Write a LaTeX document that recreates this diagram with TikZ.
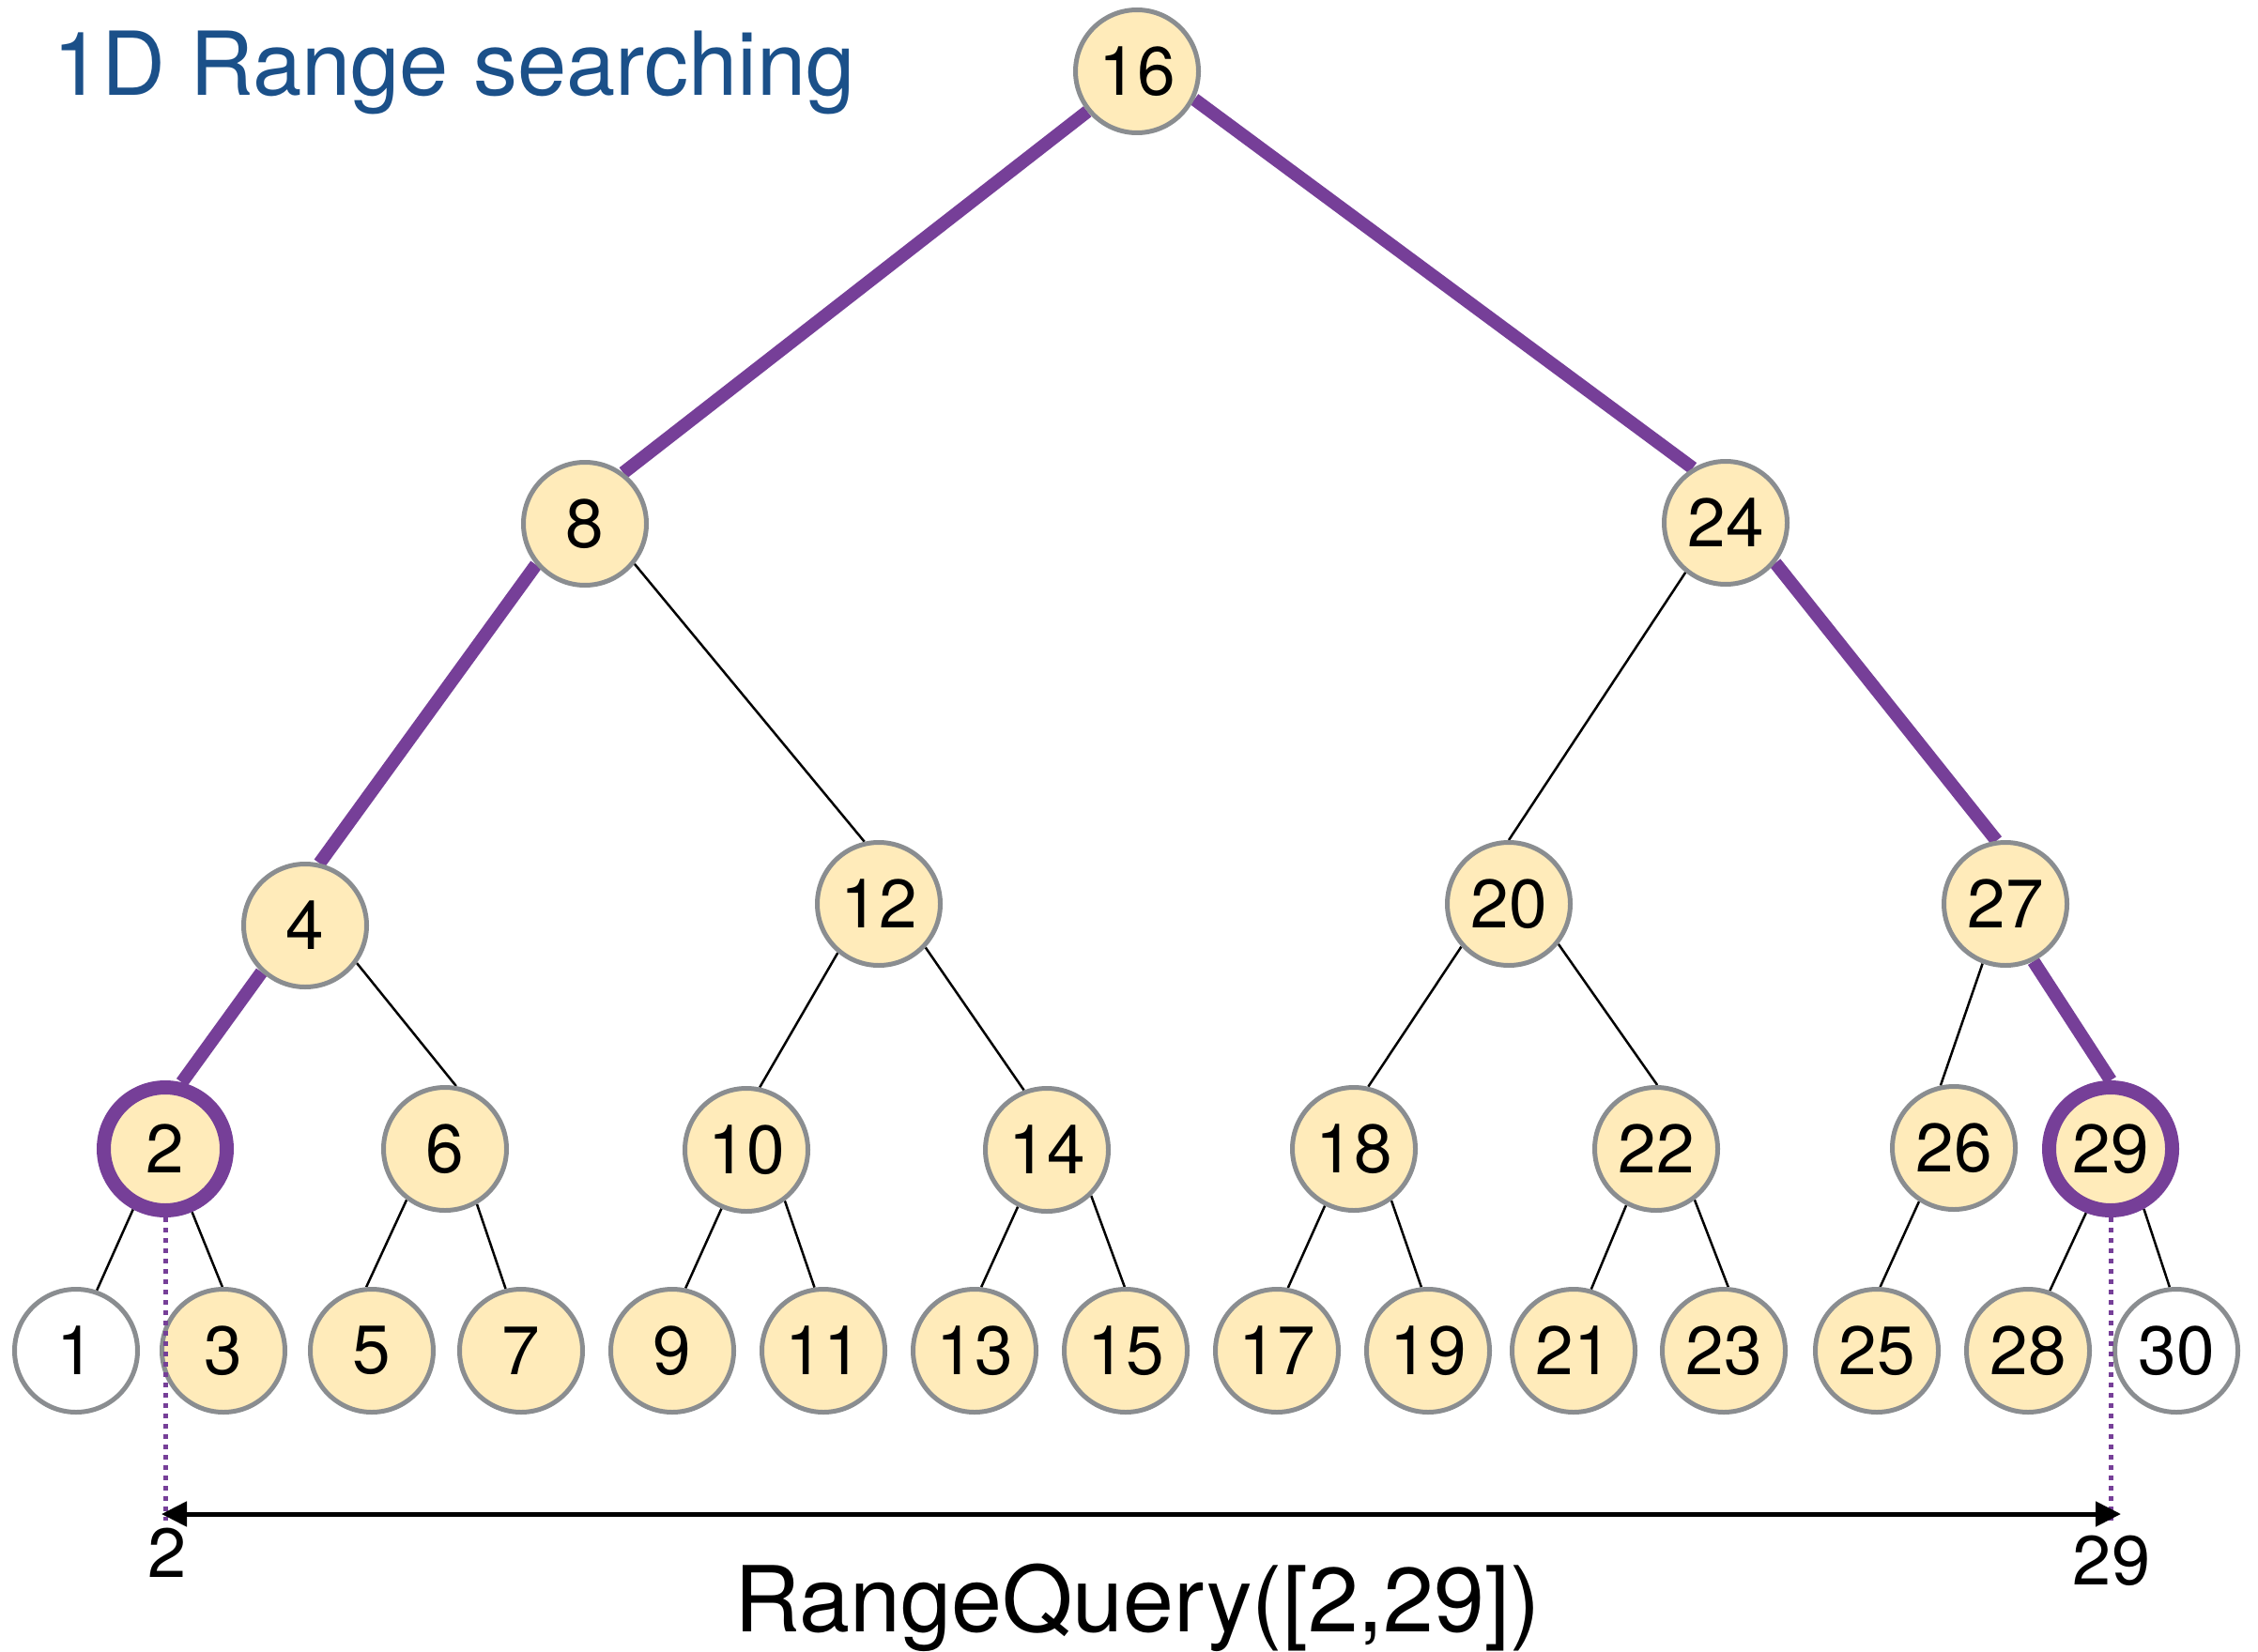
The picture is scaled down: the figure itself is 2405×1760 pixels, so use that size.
\documentclass[tikz,border=0pt]{standalone}
\usepackage{fontspec}
\setmainfont{TeX Gyre Heros}
\usetikzlibrary{arrows.meta,backgrounds}

\definecolor{keyfill}{HTML}{FFEBBA}
\definecolor{keygray}{HTML}{8A8D90}
\definecolor{pathpurple}{HTML}{763F98}
\definecolor{titleblue}{HTML}{1B5089}

\tikzset{
  key/.style={circle, draw=keygray, line width=5pt, fill=keyfill,
    minimum size=131pt, inner sep=0pt, font=\fontsize{73}{73}\selectfont},
  outkey/.style={key, fill=white},
  hitkey/.style={key, draw=pathpurple, line width=15pt},
  tedge/.style={line width=2.5pt},
  pedge/.style={draw=pathpurple, line width=14pt},
  qdot/.style={draw=pathpurple, line width=5pt, dash pattern=on 5pt off 6pt},
  qarrow/.style={line width=5pt,
    arrows={Triangle[length=27pt,width=26pt]-Triangle[length=27pt,width=26pt]}},
  lbl/.style={inner sep=0pt, font=\fontsize{74}{74}\selectfont}
}

\begin{document}
\begin{tikzpicture}[x=1pt, y=-1pt]
    \useasboundingbox (0,0) rectangle (2405,1760);

    % Title
    \node[anchor=base west, inner sep=0pt, text=titleblue,
      font=\fontsize{94}{94}\selectfont] (title) at (56,102) {1D Range searching};

    % Root and second level
    \node[key] (n16) at (1211,76) {16};
    \node[key] (n8) at (623,558) {8};
    \node[key] (n24) at (1838,557) {24};

    % Third level
    \node[key] (n4) at (325,986) {4};
    \node[key] (n12) at (936,963) {12};
    \node[key] (n20) at (1607,963) {20};
    \node[key] (n27) at (2136,963) {27};

    % Fourth level
    \node[hitkey] (n2) at (176,1224) {2};
    \node[key] (n6) at (474,1224) {6};
    \node[key] (n10) at (795,1225) {10};
    \node[key] (n14) at (1115,1225) {14};
    \node[key] (n18) at (1442,1224) {18};
    \node[key] (n22) at (1764,1224) {22};
    \node[key] (n26) at (2081,1223) {26};
    \node[hitkey] (n29) at (2248,1224) {29};

    % Leaves
    \node[outkey] (n1) at (81,1439) {1};
    \node[key] (n3) at (238,1439) {3};
    \node[key] (n5) at (396,1439) {5};
    \node[key] (n7) at (555,1439) {7};
    \node[key] (n9) at (716,1439) {9};
    \node[key] (n11) at (877,1439) {11};
    \node[key] (n13) at (1038,1439) {13};
    \node[key] (n15) at (1199,1439) {15};
    \node[key] (n17) at (1360,1439) {17};
    \node[key] (n19) at (1521,1439) {19};
    \node[key] (n21) at (1676,1439) {21};
    \node[key] (n23) at (1836,1439) {23};
    \node[key] (n25) at (1999,1439) {25};
    \node[key] (n28) at (2160,1439) {28};
    \node[outkey] (n30) at (2318,1439) {30};

    \begin{scope}[on background layer]
    % Search paths
    \draw[pedge] (n16.219) -- (n8.53);
    \draw[pedge] (n16.334) -- (n24.121);
    \draw[pedge] (n8.220) -- (n4.77);
    \draw[pedge] (n4.227) -- (n2.76);
    \draw[pedge] (n24.321) -- (n27.98);
    \draw[pedge] (n27.296) -- (n29.90);

    % Other edges
    \draw[tedge] (n8.321) -- (n12.103);
    \draw[tedge] (n24.231) -- (n20.north);
    \draw[tedge] (n4.324) -- (n6.80);
    \draw[tedge] (n12.230) -- (n10.78);
    \draw[tedge] (n12.317) -- (n14.111);
    \draw[tedge] (n20.222) -- (n18.77);
    \draw[tedge] (n20.321) -- (n22.89);
    \draw[tedge] (n27.249) -- (n26.102);

    \draw[tedge] (n2.242) -- (n1.71);
    \draw[tedge] (n2.293) -- (n3.91);
    \draw[tedge] (n6.233) -- (n5.95);
    \draw[tedge] (n6.300) -- (n7.104);
    \draw[tedge] (n10.247) -- (n9.78);
    \draw[tedge] (n10.307) -- (n11.98);
    \draw[tedge] (n14.243) -- (n13.84);
    \draw[tedge] (n14.314) -- (n15.91);
    \draw[tedge] (n18.243) -- (n17.80);
    \draw[tedge] (n18.306) -- (n19.96);
    \draw[tedge] (n22.242) -- (n21.74);
    \draw[tedge] (n22.307) -- (n23.86);
    \draw[tedge] (n26.237) -- (n25.87);
    \draw[tedge] (n29.249) -- (n28.70);
    \draw[tedge] (n29.299) -- (n30.96);
    \end{scope}

    % Query range
    \coordinate (qL) at (172,1613);
    \coordinate (qR) at (2259,1613);
    \coordinate (dL) at (176,1620);
    \coordinate (dR) at (2248,1620);
    \draw[qdot] (n2.south) -- (dL);
    \draw[qdot] (n29.south) -- (dR);
    \draw[qarrow] (qL) -- (qR);
    \node[lbl, anchor=base] (lo) at (178,1680) {2};
    \node[lbl, anchor=base] (hi) at (2249,1688) {29};
    \node[anchor=base, inner sep=0pt, font=\fontsize{97}{97}\selectfont]
      (query) at (1212,1738) {RangeQuery([2,29])};
\end{tikzpicture}
\end{document}
